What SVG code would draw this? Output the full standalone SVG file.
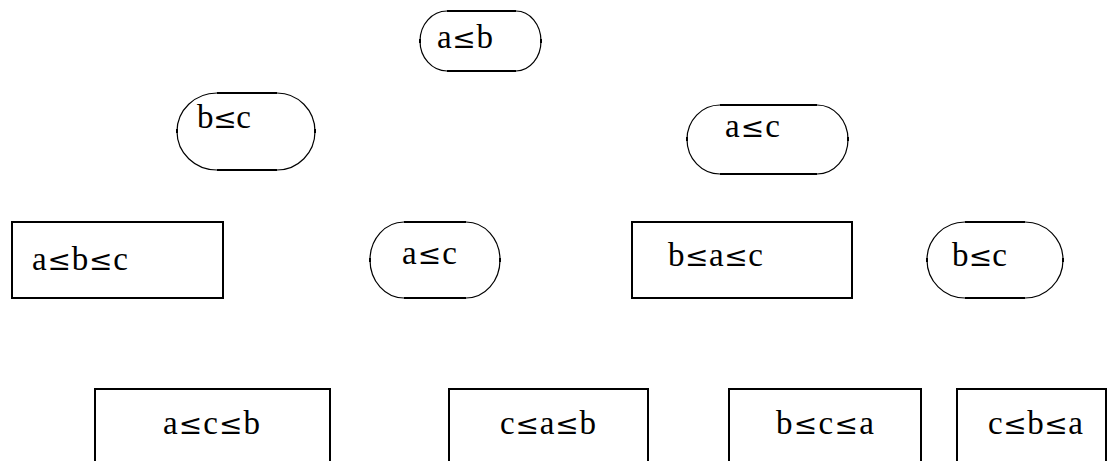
<svg xmlns="http://www.w3.org/2000/svg" width="1113" height="461" viewBox="0 0 1113 461">
  <style>
    .bg { fill: #ffffff; }
    .arc { fill: none; stroke: #000; stroke-width: 1.2; }
    .edge { fill: none; stroke: #000; stroke-width: 2; }
    .box { fill: none; stroke: #000; stroke-width: 2; }
    .lbl { font-family: "Liberation Serif", "Times New Roman", serif; font-size: 33px; fill: #000; }
    .rel { font-family: "DejaVu Serif", serif; font-size: 28px; }
  </style>
  <rect class="bg" x="0" y="0" width="1113" height="461"/>

  <!-- decision node: a≤b -->
  <g id="n-ab">
    <path class="arc" d="M447 11 A27 30 0 0 0 447 71 M516 11 A25 30 0 0 1 516 71"/>
    <path class="edge" d="M447 11 H516 M447 71 H516 M420 39 V43 M541 39 V43"/>
    <text class="lbl" x="437" y="48" textLength="56" lengthAdjust="spacing">a<tspan class="rel">≤</tspan>b</text>
  </g>

  <!-- decision node: b≤c (left) -->
  <g id="n-bc1">
    <path class="arc" d="M217 93 A40 38.5 0 0 0 217 170 M277 93 A38 38.5 0 0 1 277 170"/>
    <path class="edge" d="M217 93 H277 M217 170 H277 M177 129 V133 M315 129 V133"/>
    <text class="lbl" x="197" y="128" textLength="54" lengthAdjust="spacing">b<tspan class="rel">≤</tspan>c</text>
  </g>

  <!-- decision node: a≤c (right) -->
  <g id="n-ac1">
    <path class="arc" d="M720 105 A33 34.5 0 0 0 720 174 M817 105 A31 34.5 0 0 1 817 174"/>
    <path class="edge" d="M720 105 H817 M720 174 H817 M687 137 V141 M848 137 V141"/>
    <text class="lbl" x="725" y="137" textLength="55" lengthAdjust="spacing">a<tspan class="rel">≤</tspan>c</text>
  </g>

  <!-- leaf: a≤b≤c -->
  <g id="n-abc">
    <rect class="box" x="12" y="222" width="211" height="76"/>
    <text class="lbl" x="32" y="270" textLength="96" lengthAdjust="spacing">a<tspan class="rel">≤</tspan>b<tspan class="rel">≤</tspan>c</text>
  </g>

  <!-- decision node: a≤c (middle) -->
  <g id="n-ac2">
    <path class="arc" d="M404 222 A34 38 0 0 0 404 298 M466 222 A34 38 0 0 1 466 298"/>
    <path class="edge" d="M404 222 H466 M404 298 H466 M370 258 V262 M500 258 V262"/>
    <text class="lbl" x="402" y="264" textLength="55" lengthAdjust="spacing">a<tspan class="rel">≤</tspan>c</text>
  </g>

  <!-- leaf: b≤a≤c -->
  <g id="n-bac">
    <rect class="box" x="632" y="222" width="220" height="76"/>
    <text class="lbl" x="668" y="266" textLength="95" lengthAdjust="spacing">b<tspan class="rel">≤</tspan>a<tspan class="rel">≤</tspan>c</text>
  </g>

  <!-- decision node: b≤c (right) -->
  <g id="n-bc2">
    <path class="arc" d="M965 222 A38 38 0 0 0 965 298 M1025 222 A38 38 0 0 1 1025 298"/>
    <path class="edge" d="M965 222 H1025 M965 298 H1025 M927 258 V262 M1063 258 V262"/>
    <text class="lbl" x="952" y="266" textLength="55" lengthAdjust="spacing">b<tspan class="rel">≤</tspan>c</text>
  </g>

  <!-- leaves, bottom row -->
  <g id="n-acb">
    <rect class="box" x="95" y="389" width="235" height="90"/>
    <text class="lbl" x="163" y="434" textLength="97" lengthAdjust="spacing">a<tspan class="rel">≤</tspan>c<tspan class="rel">≤</tspan>b</text>
  </g>
  <g id="n-cab">
    <rect class="box" x="449" y="389" width="199" height="90"/>
    <text class="lbl" x="500" y="434" textLength="96" lengthAdjust="spacing">c<tspan class="rel">≤</tspan>a<tspan class="rel">≤</tspan>b</text>
  </g>
  <g id="n-bca">
    <rect class="box" x="729" y="389" width="192" height="90"/>
    <text class="lbl" x="776" y="434" textLength="98" lengthAdjust="spacing">b<tspan class="rel">≤</tspan>c<tspan class="rel">≤</tspan>a</text>
  </g>
  <g id="n-cba">
    <rect class="box" x="957" y="389" width="149" height="90"/>
    <text class="lbl" x="988" y="434" textLength="95" lengthAdjust="spacing">c<tspan class="rel">≤</tspan>b<tspan class="rel">≤</tspan>a</text>
  </g>

  <g id="connectors"></g>
</svg>
